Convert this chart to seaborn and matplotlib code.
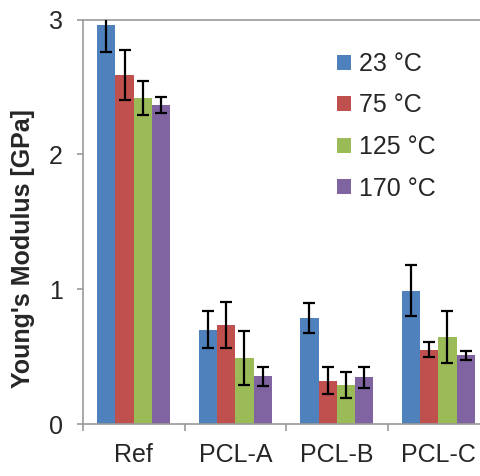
import matplotlib
matplotlib.use("Agg")
import matplotlib.pyplot as plt
import seaborn as sns
import pandas as pd
import numpy as np

categories = ["Ref", "PCL-A", "PCL-B", "PCL-C"]
temps = ["23 °C", "75 °C", "125 °C", "170 °C"]
mod_23 = [2.96, 0.70, 0.785, 0.99]
mod_75 = [2.59, 0.735, 0.32, 0.55]
mod_125 = [2.42, 0.49, 0.29, 0.645]
mod_170 = [2.365, 0.355, 0.345, 0.51]
err_23 = [0.20, 0.14, 0.11, 0.19]
err_75 = [0.185, 0.17, 0.10, 0.055]
err_125 = [0.125, 0.20, 0.095, 0.19]
err_170 = [0.06, 0.07, 0.075, 0.035]
colors = ["#4F81BD", "#C0504D", "#9BBB59", "#8064A2"]

vals = [mod_23, mod_75, mod_125, mod_170]
errs = [err_23, err_75, err_125, err_170]
rows = []
for t, v, e in zip(temps, vals, errs):
    for c, vv, ee in zip(categories, v, e):
        rows.append({"Sample": c, "Temp": t, "E": vv, "err": ee})
df = pd.DataFrame(rows)

sns.set_style("white")
plt.rcParams["font.family"] = ["Liberation Sans", "DejaVu Sans"]

fig = plt.figure(figsize=(4.81, 4.76), dpi=100)
ax = fig.add_axes([83 / 481, 52 / 476, 1 - 83 / 481, (424 - 19.5) / 476])

sns.barplot(data=df, x="Sample", y="E", hue="Temp", order=categories,
            hue_order=temps, palette=colors, width=0.72, errorbar=None,
            saturation=1, edgecolor="none", linewidth=0, ax=ax)

# error bars on each bar, from bar patches
for cont, t in zip(ax.containers, temps):
    sub = df[df["Temp"] == t].set_index("Sample").loc[categories]
    xs = [p.get_x() + p.get_width() / 2 for p in cont.patches]
    hs = [p.get_height() for p in cont.patches]
    ax.errorbar(xs, hs, yerr=sub["err"].values, fmt="none", ecolor="black",
                elinewidth=1.6, capsize=4, capthick=1.6, zorder=5, clip_on=True)

ax.set_ylim(0, 3)
ax.set_xlim(-0.5, 3.42)
ax.set_yticks([0, 1, 2, 3])
ax.set_yticklabels(["0", "1", "2", "3"])
ax.set_xticks(range(4))
ax.set_xticklabels(categories)
ax.set_xticks([-0.5, 0.5, 1.5, 2.5], minor=True)

spine_c = "#9a9a9a"
for s in ["left", "bottom", "top"]:
    ax.spines[s].set_visible(True)
    ax.spines[s].set_color(spine_c)
    ax.spines[s].set_linewidth(1.2)
ax.spines["right"].set_visible(False)

ax.tick_params(axis="y", which="major", direction="out", length=4.5, width=1.2,
               color=spine_c, labelsize=18, pad=10, left=True)
ax.tick_params(axis="x", which="major", length=0, labelsize=18, pad=14)
ax.tick_params(axis="x", which="minor", direction="out", length=5, width=1.2,
               color=spine_c, bottom=True)

ax.set_xlabel("")
ax.set_ylabel("Young's Modulus [GPa]", fontsize=18, fontweight="bold")
ax.yaxis.set_label_coords((35 - 83) / 398, (424 - 248.5) / 404.5)

ax.legend(loc="upper left", bbox_to_anchor=(337 / 481, 1 - 52 / 476),
          bbox_transform=fig.transFigure, frameon=False, fontsize=18,
          handlelength=0.55, handleheight=0.55, handletextpad=0.35,
          labelspacing=0.7, borderpad=0, borderaxespad=0)

fig.savefig("out.png", dpi=100)
